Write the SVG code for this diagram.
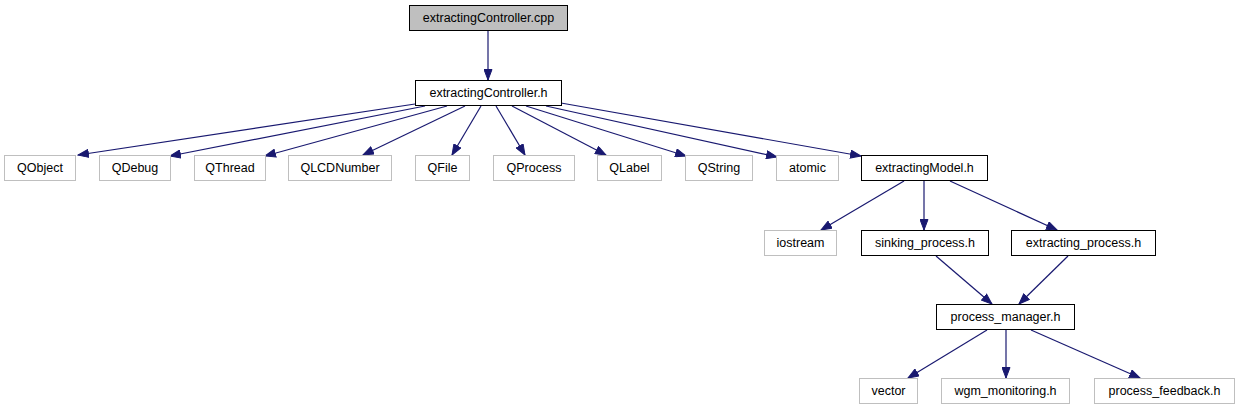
<svg xmlns="http://www.w3.org/2000/svg" width="1235" height="411" viewBox="0 0 1235 411">
<style>
.n rect{fill:#fff;stroke:#000;stroke-width:1}
.n.ext rect{stroke:#bfbfbf}
.n.root rect{fill:#bfbfbf}
.n text{font-family:"Liberation Sans",Arial,sans-serif;font-size:12.5px;text-anchor:middle;fill:#000}
.e line{stroke:#191970;stroke-width:1.2;fill:none}
</style>
<defs>
<marker id="ah" markerUnits="userSpaceOnUse" markerWidth="12" markerHeight="9" refX="11" refY="4.5" orient="auto">
<path d="M0.5,0.5 L11,4.5 L0.5,8.5 z" fill="#191970" stroke="#191970" stroke-width="1"/>
</marker>
</defs>
<rect width="1235" height="411" fill="#fff"/>
<g id="edges" class="e">
<line x1="488" y1="31" x2="488" y2="80" marker-end="url(#ah)"/>
<line x1="415" y1="104" x2="78" y2="155" marker-end="url(#ah)"/>
<line x1="425" y1="106" x2="170" y2="156" marker-end="url(#ah)"/>
<line x1="447" y1="106" x2="265" y2="156" marker-end="url(#ah)"/>
<line x1="465" y1="106" x2="363" y2="155" marker-end="url(#ah)"/>
<line x1="481" y1="106" x2="452" y2="155" marker-end="url(#ah)"/>
<line x1="496" y1="106" x2="525" y2="155" marker-end="url(#ah)"/>
<line x1="512" y1="106" x2="606" y2="155" marker-end="url(#ah)"/>
<line x1="526" y1="106" x2="686" y2="156" marker-end="url(#ah)"/>
<line x1="546" y1="106" x2="777" y2="157" marker-end="url(#ah)"/>
<line x1="561" y1="103" x2="861" y2="156" marker-end="url(#ah)"/>
<line x1="904" y1="181" x2="821" y2="230" marker-end="url(#ah)"/>
<line x1="924" y1="181" x2="924" y2="230" marker-end="url(#ah)"/>
<line x1="950" y1="181" x2="1057" y2="230" marker-end="url(#ah)"/>
<line x1="936" y1="256" x2="992" y2="304" marker-end="url(#ah)"/>
<line x1="1068" y1="256" x2="1019" y2="304" marker-end="url(#ah)"/>
<line x1="987" y1="330" x2="908" y2="378" marker-end="url(#ah)"/>
<line x1="1006" y1="330" x2="1006" y2="378" marker-end="url(#ah)"/>
<line x1="1031" y1="330" x2="1140" y2="378" marker-end="url(#ah)"/>
</g>
<g id="node-cpp" class="n root"><rect x="409.5" y="5.5" width="158" height="25"/><text x="488.5" y="21.5">extractingController.cpp</text></g>
<g id="node-ctrl-h" class="n"><rect x="415.5" y="80.5" width="146" height="25"/><text x="488.5" y="96.5">extractingController.h</text></g>
<g id="node-qobject" class="n ext"><rect x="4.5" y="155.5" width="71" height="25"/><text x="40" y="171.5">QObject</text></g>
<g id="node-qdebug" class="n ext"><rect x="99.5" y="155.5" width="71" height="25"/><text x="135" y="171.5">QDebug</text></g>
<g id="node-qthread" class="n ext"><rect x="194.5" y="155.5" width="71" height="25"/><text x="230" y="171.5">QThread</text></g>
<g id="node-qlcdnumber" class="n ext"><rect x="288.5" y="155.5" width="103" height="25"/><text x="340" y="171.5">QLCDNumber</text></g>
<g id="node-qfile" class="n ext"><rect x="415.5" y="155.5" width="54" height="25"/><text x="442.5" y="171.5">QFile</text></g>
<g id="node-qprocess" class="n ext"><rect x="493.5" y="155.5" width="81" height="25"/><text x="534" y="171.5">QProcess</text></g>
<g id="node-qlabel" class="n ext"><rect x="597.5" y="155.5" width="64" height="25"/><text x="629.5" y="171.5">QLabel</text></g>
<g id="node-qstring" class="n ext"><rect x="685.5" y="155.5" width="67" height="25"/><text x="719" y="171.5">QString</text></g>
<g id="node-atomic" class="n ext"><rect x="776.5" y="155.5" width="62" height="25"/><text x="807.5" y="171.5">atomic</text></g>
<g id="node-model-h" class="n"><rect x="861.5" y="155.5" width="126" height="25"/><text x="924.5" y="171.5">extractingModel.h</text></g>
<g id="node-iostream" class="n ext"><rect x="764.5" y="230.5" width="72" height="25"/><text x="800.5" y="246.5">iostream</text></g>
<g id="node-sinking" class="n"><rect x="861.5" y="230.5" width="127" height="25"/><text x="925" y="246.5">sinking_process.h</text></g>
<g id="node-extracting" class="n"><rect x="1011.5" y="230.5" width="144" height="25"/><text x="1083.5" y="246.5">extracting_process.h</text></g>
<g id="node-pm" class="n"><rect x="936.5" y="304.5" width="138" height="25"/><text x="1005.5" y="320.5">process_manager.h</text></g>
<g id="node-vector" class="n ext"><rect x="859.5" y="378.5" width="58" height="25"/><text x="888.5" y="394.5">vector</text></g>
<g id="node-wgm" class="n ext"><rect x="941.5" y="378.5" width="128" height="25"/><text x="1005.5" y="394.5">wgm_monitoring.h</text></g>
<g id="node-feedback" class="n ext"><rect x="1094.5" y="378.5" width="140" height="25"/><text x="1164.5" y="394.5">process_feedback.h</text></g>
</svg>
